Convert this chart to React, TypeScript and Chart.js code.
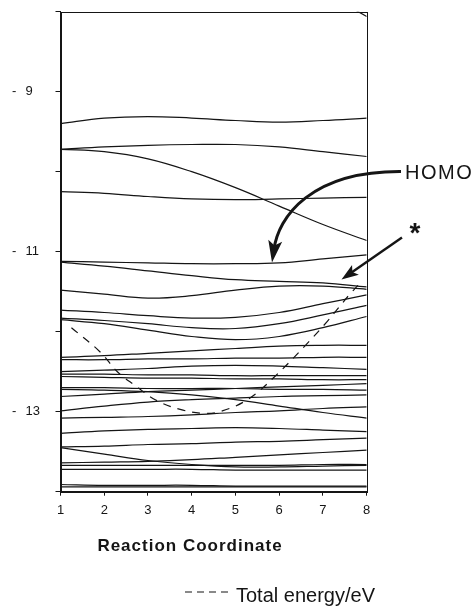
import React, { useEffect, useRef } from 'react';
import { Chart, registerables } from 'chart.js';

Chart.register(...registerables);

// Reaction coordinate (x categories)
const coords = [1, 2, 3, 4, 5, 6, 7, 8];
// y tick values that carry a label
const yLabelled = [-9, -11, -13];

// Orbital energies (eV) at each reaction coordinate
const orbTop = [null, null, null, null, null, -7.45, -7.75, -8.06];
const orbA = [-9.40, -9.33, -9.31, -9.33, -9.36, -9.38, -9.36, -9.33];
const orbB = [-9.72, -9.69, -9.67, -9.66, -9.66, -9.69, -9.75, -9.81];
const orbC = [-9.72, -9.75, -9.84, -10.0, -10.2, -10.43, -10.66, -10.86];
const orbD = [-10.25, -10.27, -10.31, -10.34, -10.35, -10.34, -10.33, -10.32];
const orbHomo = [-11.12, -11.13, -11.14, -11.15, -11.15, -11.14, -11.09, -11.04];
const orbF = [-11.13, -11.18, -11.24, -11.30, -11.35, -11.37, -11.39, -11.44];
const orbG = [-11.48, -11.53, -11.58, -11.55, -11.48, -11.43, -11.43, -11.47];
const orbH = [-11.73, -11.76, -11.80, -11.83, -11.82, -11.76, -11.65, -11.54];
const orbI = [-11.83, -11.86, -11.90, -11.95, -11.96, -11.90, -11.79, -11.67];
const orbJ = [-11.85, -11.90, -11.98, -12.06, -12.10, -12.06, -11.95, -11.81];
const orbK = [-12.32, -12.30, -12.27, -12.24, -12.21, -12.18, -12.17, -12.17];
const orbL = [-12.35, -12.35, -12.34, -12.34, -12.33, -12.33, -12.32, -12.32];
const orbM = [-12.50, -12.48, -12.46, -12.43, -12.42, -12.43, -12.45, -12.47];
const orbN = [-12.53, -12.53, -12.54, -12.54, -12.55, -12.55, -12.55, -12.55];
const orbO = [-12.56, -12.57, -12.58, -12.58, -12.59, -12.59, -12.60, -12.60];
const orbQ = [-12.70, -12.70, -12.71, -12.71, -12.71, -12.72, -12.72, -12.73];
const orbP = [-12.72, -12.73, -12.75, -12.79, -12.85, -12.93, -13.01, -13.08];
const orbR = [-12.81, -12.78, -12.75, -12.73, -12.71, -12.69, -12.67, -12.65];
const orbS = [-12.99, -12.93, -12.88, -12.85, -12.83, -12.81, -12.80, -12.79];
const orbT = [-13.08, -13.07, -13.06, -13.04, -13.01, -12.99, -12.96, -12.94];
const orbU = [-13.27, -13.24, -13.22, -13.21, -13.20, -13.21, -13.23, -13.25];
const orbV = [-13.44, -13.43, -13.41, -13.40, -13.38, -13.37, -13.35, -13.33];
const orbW = [-13.45, -13.53, -13.61, -13.66, -13.69, -13.69, -13.68, -13.67];
const orbX = [-13.64, -13.63, -13.62, -13.60, -13.57, -13.54, -13.51, -13.48];
const orbY = [-13.67, -13.67, -13.67, -13.67, -13.67, -13.67, -13.66, -13.66];
const orbZ = [-13.72, -13.72, -13.72, -13.72, -13.73, -13.73, -13.73, -13.73];
const orbBottom1 = [-13.91, -13.92, -13.92, -13.92, -13.93, -13.93, -13.93, -13.93];
const orbBottom2 = [-13.94, -13.94, -13.94, -13.94, -13.94, -13.94, -13.94, -13.94];

const orbitals = [
  orbTop, orbA, orbB, orbC, orbD, orbHomo, orbF, orbG, orbH, orbI, orbJ, orbK, orbL,
  orbM, orbN, orbO, orbQ, orbP, orbR, orbS, orbT, orbU, orbV, orbW, orbX, orbY, orbZ,
  orbBottom1, orbBottom2,
];

// Total energy curve (dashed), scaled onto the eV axis
const totalX = [1.25, 1.9, 2.3, 2.7, 3.2, 3.8, 4.3, 4.7, 5.3, 5.9, 6.6, 7.1, 7.6, 7.8];
const totalY = [-11.95, -12.25, -12.5, -12.67, -12.86, -12.98, -13.02, -12.99, -12.84, -12.56, -12.17, -11.87, -11.54, -11.42];

const xTitle = 'Reaction Coordinate';
const legendText = 'Total energy/eV';
const homoText = 'HOMO';
const starText = '*';

const INK = '#151515';
const FONT = '"Liberation Sans", Arial, Helvetica, sans-serif';

function arrowHead(ctx: CanvasRenderingContext2D, tx: number, ty: number, dx: number, dy: number, len: number, half: number) {
  const l = Math.hypot(dx, dy);
  const ux = dx / l, uy = dy / l;
  const px = -uy, py = ux;
  const bx = tx - ux * len, by = ty - uy * len;
  const nx = tx - ux * len * 0.78, ny = ty - uy * len * 0.78;
  ctx.beginPath();
  ctx.moveTo(tx, ty);
  ctx.lineTo(bx + px * half, by + py * half);
  ctx.lineTo(nx, ny);
  ctx.lineTo(bx - px * half, by - py * half);
  ctx.closePath();
  ctx.fill();
}

const overlay = {
  id: 'overlay',
  afterDraw(chart: any) {
    const ctx: CanvasRenderingContext2D = chart.ctx;
    const a = chart.chartArea;
    ctx.save();
    // frame
    ctx.strokeStyle = INK;
    ctx.lineWidth = 1;
    ctx.strokeRect(Math.round(a.left) + 0.5, Math.round(a.top) + 0.5, Math.round(a.right - a.left), Math.round(a.bottom - a.top));

    ctx.fillStyle = INK;
    // x title
    ctx.font = `bold 17px ${FONT}`;
    (ctx as any).letterSpacing = '1px';
    ctx.textAlign = 'center';
    ctx.textBaseline = 'alphabetic';
    ctx.fillText(xTitle, 190, 550.5);

    // legend
    (ctx as any).letterSpacing = '0px';
    ctx.setLineDash([7, 5]);
    ctx.lineWidth = 1.2;
    ctx.beginPath();
    ctx.moveTo(185, 592);
    ctx.lineTo(230, 592);
    ctx.stroke();
    ctx.setLineDash([]);
    ctx.font = `20px ${FONT}`;
    ctx.textAlign = 'left';
    ctx.fillText(legendText, 236, 602);

    // HOMO label and arrow
    (ctx as any).letterSpacing = '1.5px';
    ctx.font = `20px ${FONT}`;
    ctx.fillText(homoText, 405, 178.5);
    (ctx as any).letterSpacing = '0px';
    const tip = { x: 272, y: 262.5 };
    const c2 = { x: 278, y: 222 };
    const dx = tip.x - c2.x, dy = tip.y - c2.y;
    const dl = Math.hypot(dx, dy);
    const endX = tip.x - (dx / dl) * 12, endY = tip.y - (dy / dl) * 12;
    ctx.lineWidth = 3;
    ctx.beginPath();
    ctx.moveTo(401, 171.5);
    ctx.bezierCurveTo(312, 171, c2.x, c2.y - 6, endX, endY);
    ctx.stroke();
    arrowHead(ctx, tip.x, tip.y, dx, dy, 22, 7);

    // star label and arrow
    ctx.font = `bold 28px ${FONT}`;
    ctx.textAlign = 'center';
    ctx.fillText(starText, 415, 242);
    const s0 = { x: 402, y: 237.5 };
    const s1 = { x: 341.5, y: 279.5 };
    const sdx = s1.x - s0.x, sdy = s1.y - s0.y;
    const sl = Math.hypot(sdx, sdy);
    ctx.lineWidth = 2.4;
    ctx.beginPath();
    ctx.moveTo(s0.x, s0.y);
    ctx.lineTo(s1.x - (sdx / sl) * 10, s1.y - (sdy / sl) * 10);
    ctx.stroke();
    arrowHead(ctx, s1.x, s1.y, sdx, sdy, 17, 6);
    ctx.restore();
  },
};

export default function App() {
  const ref = useRef<HTMLCanvasElement | null>(null);
  useEffect(() => {
    if (!ref.current) return;
    const datasets: any[] = orbitals.map((vals) => ({
      data: vals,
      borderColor: INK,
      borderWidth: 1.25,
      pointRadius: 0,
      tension: 0.4,
      fill: false,
      spanGaps: false,
    }));
    datasets.push({
      data: totalX.map((x, i) => ({ x, y: totalY[i] })),
      borderColor: INK,
      borderWidth: 1.2,
      borderDash: [8, 7],
      pointRadius: 0,
      tension: 0.4,
      fill: false,
    });
    const chart = new Chart(ref.current, {
      type: 'line',
      data: { labels: coords, datasets },
      options: {
        animation: false,
        responsive: false,
        events: [],
        layout: { padding: { left: 12, right: 107.3, top: 11.7, bottom: 0 } },
        plugins: { legend: { display: false }, tooltip: { enabled: false }, title: { display: false } },
        scales: {
          x: {
            type: 'linear',
            min: 1,
            max: 8,
            afterFit: (s: any) => { s.height = 115.3; },
            border: { display: true, color: INK, width: 1 },
            grid: { drawOnChartArea: false, drawTicks: true, tickLength: 4, color: INK },
            ticks: {
              stepSize: 1,
              padding: 7,
              maxRotation: 0,
              autoSkip: false,
              color: INK,
              font: { family: FONT, size: 13 },
            },
          },
          y: {
            type: 'linear',
            min: -14,
            max: -8,
            afterFit: (s: any) => { s.width = 48.5; },
            border: { display: true, color: INK, width: 1 },
            grid: { drawOnChartArea: false, drawTicks: true, tickLength: 5, color: INK },
            ticks: {
              stepSize: 1,
              crossAlign: 'far',
              padding: 0,
              color: INK,
              font: { family: FONT, size: 13 },
              callback: (v: any) => (yLabelled.includes(Number(v)) ? '-\u2002\u2009' + Math.abs(Number(v)) : ''),
            },
          },
        },
      },
      plugins: [overlay],
    } as any);
    return () => chart.destroy();
  }, []);
  return (
    <div style={{ position: 'fixed', left: 0, top: 0, width: 474, height: 607, background: '#fff' }}>
      <canvas ref={ref} width={474} height={607} style={{ display: 'block', width: 474, height: 607 }} />
    </div>
  );
}
